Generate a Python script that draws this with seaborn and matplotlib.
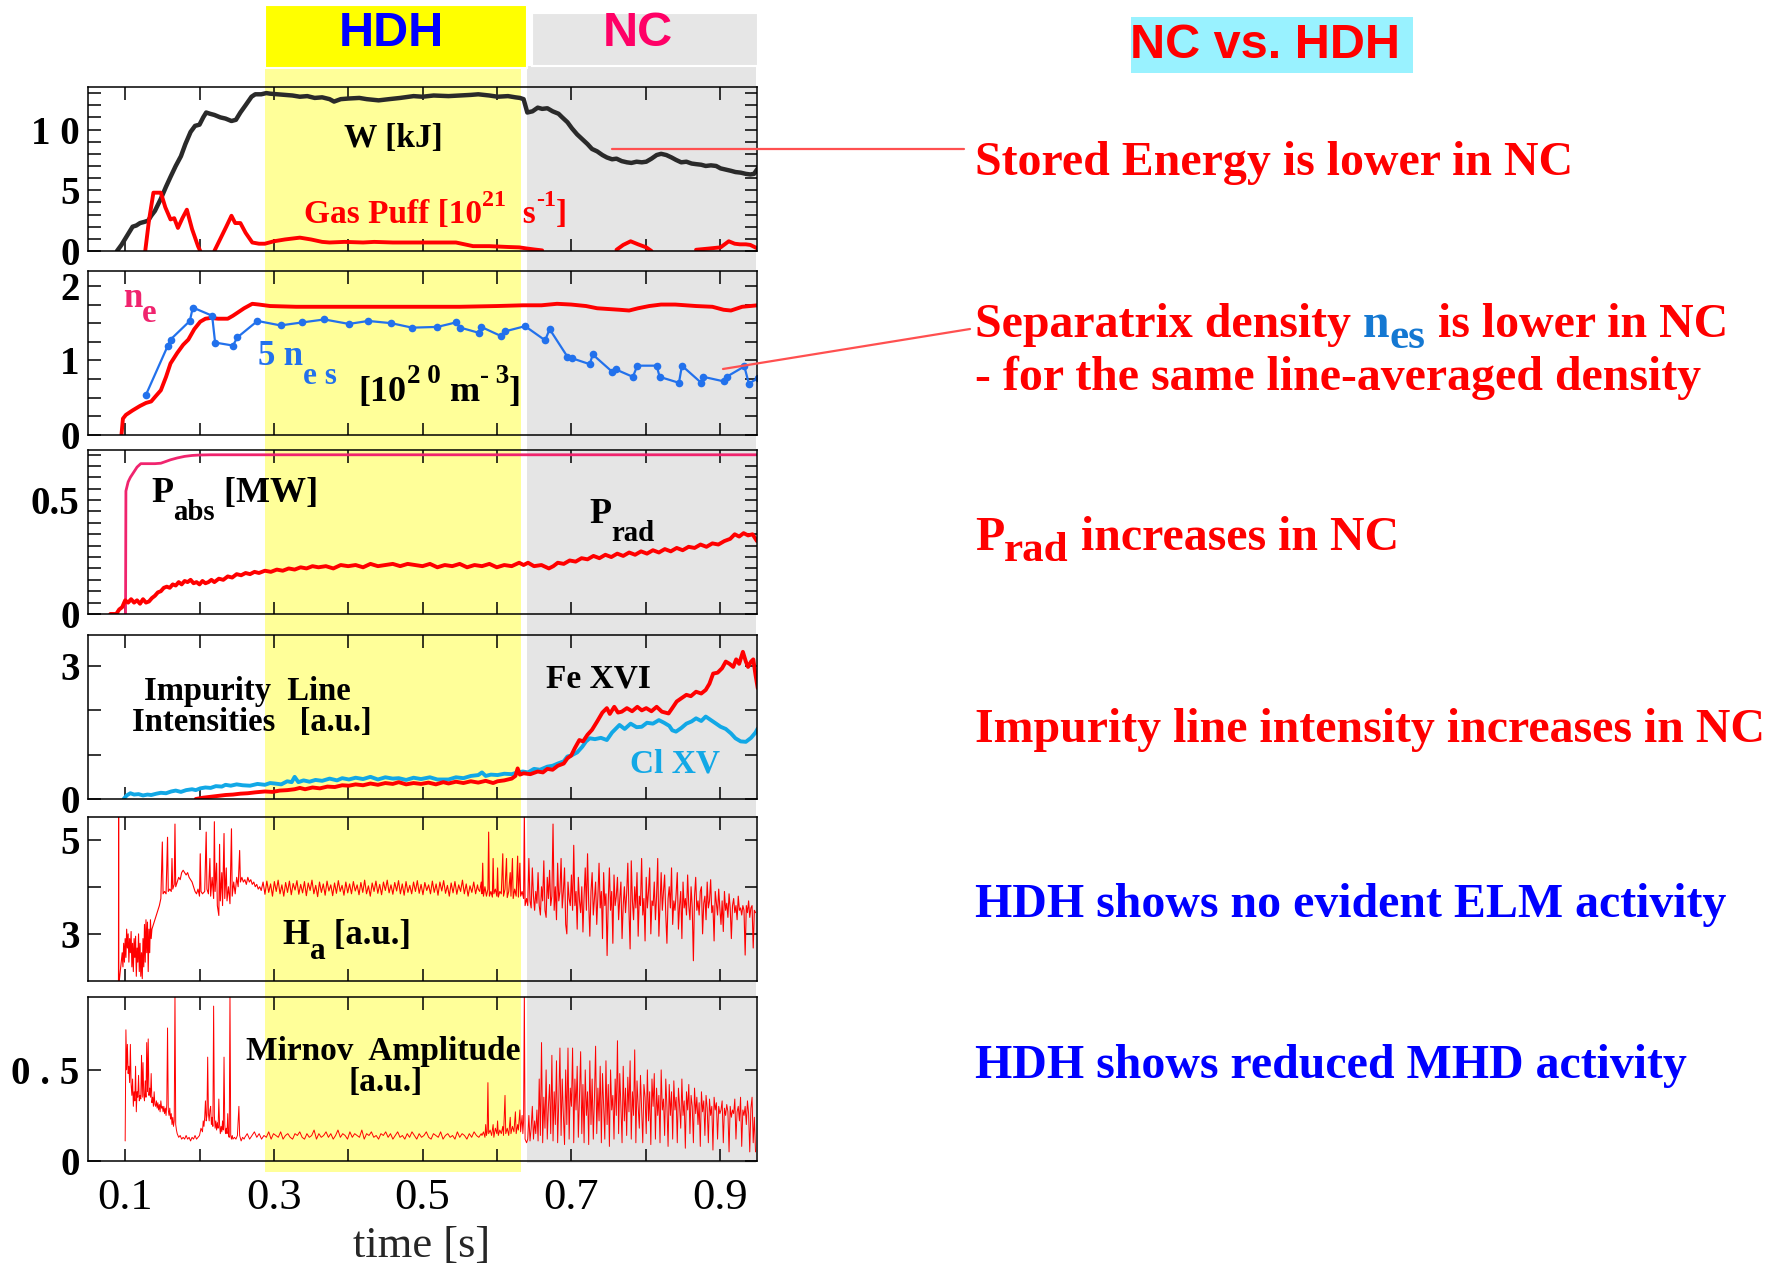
import numpy as np
import matplotlib
matplotlib.use("Agg")
import matplotlib.pyplot as plt
from matplotlib.patches import Rectangle
from matplotlib.lines import Line2D
from matplotlib.ticker import FixedLocator, FixedFormatter
from matplotlib.transforms import IdentityTransform
import seaborn as sns

# ---------------------------------------------------------------- data
# Stored energy W [kJ]
w_t = [0.089, 0.095, 0.100, 0.106, 0.110, 0.115, 0.120, 0.126, 0.131, 0.135, 0.140, 0.148, 0.155,
       0.161, 0.168, 0.175, 0.181, 0.188, 0.194, 0.200, 0.205, 0.209, 0.214, 0.220, 0.228, 0.235,
       0.243, 0.249, 0.255, 0.262, 0.270, 0.275, 0.283, 0.290, 0.295, 0.305, 0.315, 0.325, 0.335,
       0.345, 0.355, 0.365, 0.375, 0.381, 0.390, 0.400, 0.415, 0.425, 0.441, 0.455, 0.470, 0.488,
       0.500, 0.515, 0.535, 0.550, 0.565, 0.575, 0.590, 0.601, 0.615, 0.625, 0.631, 0.636, 0.641,
       0.648, 0.655, 0.661, 0.668, 0.675, 0.683, 0.688, 0.695, 0.701, 0.708, 0.715, 0.722, 0.728,
       0.735, 0.742, 0.748, 0.755, 0.761, 0.768, 0.775, 0.781, 0.788, 0.795, 0.801, 0.808, 0.815,
       0.821, 0.828, 0.835, 0.841, 0.848, 0.855, 0.862, 0.868, 0.875, 0.881, 0.888, 0.895, 0.901,
       0.908, 0.915, 0.921, 0.928, 0.935, 0.941, 0.946, 0.951]
w_v = [0.0, 0.5, 1.0, 1.6, 2.0, 2.1, 2.3, 2.4, 2.5, 2.9, 3.3, 4.3, 5.3,
       6.1, 7.0, 7.8, 8.8, 9.8, 10.3, 10.4, 11.0, 11.4, 11.3, 11.2, 11.0, 10.9,
       10.7, 10.8, 11.4, 12.0, 12.7, 12.9, 12.9, 13.0, 12.95, 12.9, 12.85, 12.8, 12.7,
       12.75, 12.6, 12.65, 12.5, 12.3, 12.5, 12.55, 12.6, 12.5, 12.4, 12.5, 12.6, 12.75,
       12.7, 12.8, 12.75, 12.8, 12.85, 12.9, 12.8, 12.7, 12.75, 12.65, 12.6, 12.5, 11.4,
       11.5, 11.8, 11.7, 11.75, 11.5, 11.3, 11.0, 10.6, 10.1, 9.6, 9.2, 8.8, 8.4,
       8.2, 7.9, 7.7, 7.55, 7.6, 7.4, 7.3, 7.25, 7.35, 7.3, 7.35, 7.6, 7.9,
       8.0, 7.9, 7.7, 7.5, 7.3, 7.35, 7.2, 7.15, 7.1, 7.0, 7.05, 7.0, 6.8,
       6.7, 6.6, 6.5, 6.45, 6.35, 6.3, 6.35, 6.8]

# Gas puff [1e21 /s]  (nan marks where the trace sits on zero)
gas_t = [0.127, 0.132, 0.138, 0.148, 0.154, 0.161, 0.166, 0.171, 0.177, 0.183, 0.190, 0.198, 0.201,
         np.nan,
         0.220, 0.228, 0.236, 0.243, 0.248, 0.255, 0.262, 0.271, 0.280, 0.288, 0.300, 0.315, 0.335,
         0.350, 0.365, 0.375, 0.395, 0.420, 0.435, 0.460, 0.490, 0.520, 0.545, 0.568, 0.590, 0.615,
         0.630, 0.641, 0.651, 0.661,
         np.nan,
         0.761, 0.770, 0.780, 0.790, 0.801, 0.808,
         np.nan,
         0.868, 0.885, 0.901, 0.912, 0.920, 0.927, 0.935, 0.941, 0.951]
gas_v = [0.0, 2.5, 4.8, 4.8, 3.6, 2.6, 2.7, 1.9, 2.7, 3.4, 1.8, 0.4, 0.0,
         np.nan,
         0.0, 1.0, 2.0, 2.9, 2.3, 2.3, 1.5, 0.7, 0.6, 0.6, 0.8, 0.95, 1.1,
         0.95, 0.75, 0.7, 0.75, 0.7, 0.75, 0.7, 0.7, 0.7, 0.7, 0.4, 0.4, 0.33,
         0.3, 0.2, 0.12, 0.05,
         np.nan,
         0.1, 0.5, 0.8, 0.55, 0.3, 0.0,
         np.nan,
         0.1, 0.2, 0.3, 0.8, 0.6, 0.55, 0.55, 0.5, 0.2]

# Line-averaged density n_e [1e20 m^-3]
ne_t = [0.095, 0.097, 0.101, 0.110, 0.120, 0.128, 0.135, 0.141, 0.148, 0.155, 0.161, 0.170, 0.178,
        0.185, 0.193, 0.201, 0.208, 0.215, 0.225, 0.238, 0.245, 0.251, 0.260, 0.271, 0.280, 0.295,
        0.330, 0.370, 0.401, 0.450, 0.500, 0.550, 0.600, 0.635, 0.660, 0.681, 0.700, 0.720, 0.735,
        0.750, 0.765, 0.778, 0.790, 0.805, 0.821, 0.840, 0.868, 0.890, 0.905, 0.915, 0.930, 0.951]
ne_v = [0.0, 0.22, 0.27, 0.33, 0.39, 0.43, 0.45, 0.52, 0.60, 0.78, 0.96, 1.10, 1.21,
        1.28, 1.42, 1.52, 1.56, 1.57, 1.56, 1.56, 1.60, 1.64, 1.70, 1.76, 1.75, 1.73,
        1.72, 1.72, 1.72, 1.72, 1.72, 1.72, 1.73, 1.74, 1.74, 1.76, 1.75, 1.73, 1.70,
        1.69, 1.68, 1.67, 1.70, 1.73, 1.75, 1.75, 1.73, 1.72, 1.68, 1.67, 1.72, 1.74]

# Separatrix density, 5 x n_es
nes_t = [0.128, 0.157, 0.161, 0.187, 0.191, 0.217, 0.221, 0.245, 0.251, 0.278, 0.309, 0.338, 0.368,
         0.401, 0.427, 0.458, 0.486, 0.520, 0.545, 0.551, 0.576, 0.579, 0.605, 0.611, 0.638, 0.665,
         0.671, 0.695, 0.701, 0.725, 0.729, 0.755, 0.760, 0.783, 0.789, 0.815, 0.819, 0.845, 0.849,
         0.875, 0.878, 0.905, 0.909, 0.933, 0.939, 0.951]
nes_v = [0.54, 1.19, 1.28, 1.53, 1.71, 1.60, 1.24, 1.20, 1.31, 1.53, 1.47, 1.51, 1.55,
         1.49, 1.53, 1.50, 1.44, 1.45, 1.51, 1.44, 1.37, 1.45, 1.33, 1.39, 1.46, 1.27,
         1.42, 1.05, 1.03, 0.95, 1.08, 0.85, 0.88, 0.78, 0.93, 0.93, 0.78, 0.70, 0.93,
         0.70, 0.78, 0.72, 0.78, 0.92, 0.69, 0.76]

# Absorbed power P_abs [MW]
pabs_t = [0.100, 0.1005, 0.101, 0.104, 0.107, 0.111, 0.116, 0.121, 0.130, 0.140, 0.148, 0.155,
          0.161, 0.170, 0.180, 0.190, 0.200, 0.215, 0.300, 0.500, 0.700, 0.951]
pabs_v = [0.0, 0.0, 0.54, 0.58, 0.60, 0.62, 0.645, 0.66, 0.66, 0.66, 0.662, 0.67,
          0.677, 0.685, 0.692, 0.696, 0.698, 0.699, 0.699, 0.699, 0.699, 0.699]

# Radiated power P_rad [MW]
prad_t = [0.080, 0.088, 0.092, 0.096, 0.100, 0.104, 0.108, 0.112, 0.116, 0.120, 0.124, 0.128,
          0.132, 0.136, 0.140, 0.144, 0.148, 0.152, 0.156, 0.160, 0.164, 0.168, 0.172, 0.176,
          0.180, 0.184, 0.188, 0.192, 0.196, 0.200, 0.204, 0.208, 0.212, 0.216, 0.220, 0.226,
          0.232, 0.238, 0.244, 0.250, 0.256, 0.262, 0.268, 0.274, 0.280, 0.288, 0.296, 0.304,
          0.312, 0.320, 0.328, 0.336, 0.344, 0.352, 0.360, 0.370, 0.380, 0.390, 0.400, 0.410,
          0.420, 0.430, 0.440, 0.450, 0.460, 0.470, 0.480, 0.490, 0.500, 0.510, 0.520, 0.530,
          0.540, 0.550, 0.560, 0.570, 0.580, 0.590, 0.600, 0.610, 0.620, 0.630, 0.636, 0.642,
          0.650, 0.660, 0.670, 0.676, 0.682, 0.690, 0.698, 0.706, 0.714, 0.722, 0.730, 0.738,
          0.746, 0.754, 0.762, 0.770, 0.778, 0.786, 0.794, 0.802, 0.810, 0.818, 0.826, 0.834,
          0.842, 0.850, 0.858, 0.866, 0.874, 0.882, 0.890, 0.898, 0.906, 0.914, 0.920, 0.926,
          0.932, 0.938, 0.944, 0.950]
prad_v = [0.0, 0.0, 0.02, 0.03, 0.06, 0.05, 0.065, 0.05, 0.06, 0.045, 0.065, 0.05,
          0.055, 0.07, 0.08, 0.095, 0.10, 0.115, 0.12, 0.115, 0.13, 0.125, 0.14, 0.13,
          0.145, 0.14, 0.15, 0.135, 0.14, 0.13, 0.145, 0.135, 0.14, 0.15, 0.14, 0.155,
          0.15, 0.165, 0.16, 0.175, 0.17, 0.18, 0.175, 0.185, 0.18, 0.19, 0.185, 0.195,
          0.19, 0.20, 0.195, 0.205, 0.20, 0.21, 0.205, 0.21, 0.20, 0.215, 0.21, 0.215,
          0.205, 0.22, 0.21, 0.215, 0.22, 0.21, 0.22, 0.215, 0.21, 0.22, 0.205, 0.215,
          0.21, 0.22, 0.205, 0.215, 0.21, 0.22, 0.205, 0.215, 0.21, 0.225, 0.215, 0.225,
          0.21, 0.215, 0.20, 0.21, 0.225, 0.22, 0.235, 0.23, 0.245, 0.24, 0.255, 0.245,
          0.26, 0.25, 0.265, 0.255, 0.27, 0.26, 0.275, 0.265, 0.28, 0.27, 0.285, 0.275,
          0.29, 0.28, 0.295, 0.29, 0.305, 0.295, 0.31, 0.305, 0.32, 0.33, 0.35, 0.34,
          0.355, 0.345, 0.35, 0.32]

# Impurity line intensities [a.u.]
fe_t = [0.195, 0.205, 0.215, 0.225, 0.235, 0.245, 0.255, 0.265, 0.275, 0.288, 0.298, 0.308,
        0.318, 0.328, 0.335, 0.342, 0.352, 0.362, 0.372, 0.382, 0.392, 0.401, 0.410, 0.420,
        0.430, 0.440, 0.450, 0.460, 0.468, 0.478, 0.488, 0.498, 0.508, 0.518, 0.528, 0.535,
        0.545, 0.555, 0.565, 0.575, 0.585, 0.595, 0.601, 0.610, 0.620, 0.625, 0.628, 0.631,
        0.636, 0.645, 0.655, 0.662, 0.668, 0.675, 0.682, 0.690, 0.695, 0.700, 0.705, 0.711,
        0.716, 0.722, 0.728, 0.735, 0.742, 0.748, 0.752, 0.758, 0.763, 0.768, 0.775, 0.782,
        0.789, 0.795, 0.801, 0.808, 0.815, 0.822, 0.831, 0.836, 0.842, 0.848, 0.855, 0.861,
        0.868, 0.875, 0.881, 0.886, 0.891, 0.897, 0.903, 0.908, 0.913, 0.918, 0.922, 0.926,
        0.931, 0.935, 0.938, 0.942, 0.945, 0.948, 0.951]
fe_v = [0.0, 0.03, 0.05, 0.07, 0.09, 0.10, 0.12, 0.13, 0.15, 0.17, 0.16, 0.19,
        0.20, 0.22, 0.25, 0.22, 0.26, 0.24, 0.28, 0.27, 0.31, 0.30, 0.33, 0.31,
        0.35, 0.32, 0.36, 0.34, 0.38, 0.33, 0.36, 0.34, 0.37, 0.33, 0.38, 0.35,
        0.39, 0.36, 0.40, 0.37, 0.41, 0.36, 0.40, 0.42, 0.46, 0.52, 0.69, 0.55,
        0.58, 0.56, 0.62, 0.60, 0.68, 0.66, 0.75, 0.80, 0.92, 0.98, 1.15, 1.33,
        1.30, 1.45, 1.56, 1.75, 1.95, 2.05, 1.92, 2.08, 1.95, 1.97, 2.05, 1.98,
        2.08, 2.00, 2.05, 1.98, 2.08, 1.97, 1.93, 2.05, 2.20, 2.27, 2.35, 2.32,
        2.42, 2.38, 2.46, 2.60, 2.83, 2.85, 2.95, 3.10, 3.05, 2.98, 3.15, 3.05,
        3.32, 3.10, 2.98, 3.10, 3.15, 2.80, 2.50]

cl_t = [0.098, 0.102, 0.107, 0.112, 0.118, 0.124, 0.130, 0.135, 0.142, 0.148, 0.155, 0.162,
        0.168, 0.175, 0.182, 0.190, 0.195, 0.201, 0.208, 0.215, 0.222, 0.230, 0.235, 0.242,
        0.250, 0.258, 0.268, 0.278, 0.288, 0.295, 0.301, 0.310, 0.318, 0.324, 0.328, 0.333,
        0.340, 0.348, 0.356, 0.365, 0.375, 0.385, 0.392, 0.401, 0.410, 0.420, 0.430, 0.440,
        0.450, 0.460, 0.468, 0.478, 0.488, 0.498, 0.510, 0.520, 0.535, 0.545, 0.555, 0.565,
        0.575, 0.580, 0.585, 0.592, 0.601, 0.610, 0.620, 0.628, 0.635, 0.642, 0.650, 0.658,
        0.668, 0.675, 0.682, 0.690, 0.695, 0.700, 0.708, 0.715, 0.720, 0.725, 0.732, 0.740,
        0.748, 0.755, 0.765, 0.772, 0.780, 0.788, 0.795, 0.802, 0.810, 0.818, 0.825, 0.832,
        0.836, 0.841, 0.848, 0.855, 0.862, 0.868, 0.875, 0.881, 0.888, 0.895, 0.901, 0.908,
        0.915, 0.921, 0.928, 0.935, 0.942, 0.948, 0.951]
cl_v = [0.0, 0.08, 0.13, 0.10, 0.11, 0.08, 0.10, 0.09, 0.12, 0.14, 0.13, 0.17,
        0.19, 0.16, 0.20, 0.22, 0.20, 0.24, 0.26, 0.25, 0.29, 0.28, 0.32, 0.30,
        0.33, 0.31, 0.30, 0.34, 0.32, 0.36, 0.35, 0.33, 0.40, 0.38, 0.50, 0.38,
        0.42, 0.39, 0.43, 0.41, 0.46, 0.42, 0.47, 0.44, 0.48, 0.45, 0.50, 0.44,
        0.49, 0.46, 0.47, 0.43, 0.48, 0.45, 0.49, 0.44, 0.44, 0.49, 0.47, 0.52,
        0.54, 0.60, 0.52, 0.55, 0.54, 0.57, 0.56, 0.60, 0.62, 0.60, 0.68, 0.66,
        0.73, 0.75, 0.80, 0.85, 0.96, 0.98, 1.05, 1.18, 1.30, 1.37, 1.35, 1.38,
        1.33, 1.50, 1.67, 1.58, 1.70, 1.62, 1.63, 1.72, 1.70, 1.78, 1.72, 1.65,
        1.55, 1.52, 1.60, 1.70, 1.75, 1.82, 1.76, 1.86, 1.78, 1.70, 1.63, 1.58,
        1.48, 1.37, 1.30, 1.29, 1.38, 1.50, 1.59]

# H-alpha [a.u.]: start-up and early H-mode phase
ha_early_t = [0.0910, 0.0912, 0.0914, 0.096, 0.097, 0.098, 0.099, 0.100, 0.101, 0.102, 0.103,
              0.104, 0.105, 0.106, 0.107, 0.108, 0.109, 0.110, 0.111, 0.112, 0.113, 0.114,
              0.115, 0.116, 0.117, 0.118, 0.119, 0.120, 0.121, 0.122, 0.123, 0.124, 0.125,
              0.126, 0.127, 0.128, 0.129, 0.130, 0.131, 0.132, 0.133, 0.134, 0.135, 0.136,
              0.138, 0.140, 0.142, 0.144, 0.146, 0.148, 0.150, 0.151, 0.153, 0.155, 0.157,
              0.158, 0.160, 0.162, 0.163, 0.164, 0.166, 0.167, 0.168, 0.170, 0.172, 0.174,
              0.176, 0.178, 0.180, 0.182, 0.184, 0.186, 0.188, 0.190, 0.192, 0.194, 0.196,
              0.198, 0.200, 0.201, 0.202, 0.204, 0.207, 0.209, 0.210, 0.212, 0.214, 0.215,
              0.217, 0.219, 0.220, 0.221, 0.223, 0.224, 0.226, 0.227, 0.228, 0.230, 0.231,
              0.233, 0.234, 0.236, 0.237, 0.239, 0.241, 0.243, 0.244, 0.246, 0.248, 0.250,
              0.252, 0.254, 0.255, 0.257, 0.259, 0.261, 0.263, 0.265, 0.267, 0.269, 0.271,
              0.273, 0.275, 0.277, 0.279, 0.281]
ha_early_v = [1.9, 5.6, 1.9, 2.6, 2.3, 2.8, 2.4, 2.9, 2.5, 3.1, 2.7,
              3.0, 2.4, 2.9, 2.6, 3.05, 2.3, 2.8, 2.2, 2.9, 2.5, 2.95,
              2.1, 2.7, 2.4, 3.0, 2.2, 2.8, 2.1, 2.6, 2.05, 2.9, 2.3,
              3.2, 2.4, 3.3, 2.6, 3.25, 2.2, 3.1, 2.6, 3.3, 2.9, 3.1,
              3.2, 3.3, 3.4, 3.5, 3.6, 3.75, 4.95, 3.85, 3.9, 3.85, 5.05,
              3.9, 3.95, 3.9, 4.6, 3.95, 4.05, 5.33, 4.0, 4.1, 4.2, 4.15,
              4.3, 4.35, 4.3, 4.25, 4.3, 4.2, 4.15, 4.1, 4.0, 3.9, 3.85,
              3.95, 3.8, 4.7, 3.9, 3.85, 3.9, 5.16, 3.95, 3.85, 4.6, 3.8,
              4.2, 3.75, 5.38, 3.9, 4.5, 3.6, 3.39, 4.9, 3.7, 4.3, 3.6,
              5.13, 3.75, 4.4, 3.7, 4.0, 3.64, 5.23, 3.8, 4.1, 3.85, 4.2,
              4.0, 4.77, 4.1, 4.2, 4.1, 4.15, 4.05, 4.2, 4.1, 4.15, 4.05,
              4.1, 4.0, 4.05, 3.95, 4.0]
# H-alpha during the quiet HDH phase (evenly sampled 0.283 .. 0.574 s)
ha_hdh_v = [3.92, 4.10, 3.84, 4.12, 3.88, 4.06, 3.80, 4.11, 3.90, 4.14, 3.85, 4.04, 3.80,
            4.09, 3.88, 4.12, 3.83, 4.07, 3.93, 4.13, 3.84, 4.05, 3.87, 4.11, 3.81, 4.08,
            3.92, 4.14, 3.85, 4.03, 3.79, 4.10, 3.88, 4.06, 3.82, 4.12, 3.91, 4.04, 3.81,
            4.08, 3.86, 4.13, 3.90, 4.03, 3.82, 4.10, 3.87, 4.06, 3.85, 4.11, 3.91, 4.04,
            3.83, 4.09, 3.88, 4.14, 3.85, 4.02, 3.80, 4.08, 3.90, 4.12, 3.86, 4.05, 3.83,
            4.10, 3.92, 4.14, 3.87, 4.04, 3.84, 4.09, 3.91, 4.13, 3.85, 4.06, 3.82, 4.11,
            3.88, 4.03, 3.85, 4.10, 3.90, 4.13, 3.86, 4.05, 3.83, 4.09, 3.92, 4.04, 3.85,
            4.12, 3.88, 4.06, 3.82, 4.10, 3.91, 4.13, 3.86, 4.03, 3.80, 4.08, 3.87, 4.11,
            3.84, 4.04, 3.90, 4.14, 3.85, 4.06, 3.80, 4.02, 3.88, 4.10, 3.85, 4.04]
# H-alpha at the end of the HDH phase
ha_pre_t = [0.575, 0.577, 0.579, 0.580, 0.581, 0.582, 0.584, 0.586, 0.588, 0.589, 0.590, 0.592,
            0.594, 0.595, 0.596, 0.598, 0.600, 0.601, 0.602, 0.604, 0.606, 0.608, 0.609, 0.611,
            0.613, 0.614, 0.616, 0.618, 0.619, 0.621, 0.622, 0.624, 0.626, 0.628, 0.629, 0.631,
            0.632, 0.634, 0.636, 0.637, 0.638]
ha_pre_v = [3.95, 3.90, 4.10, 3.85, 4.50, 3.80, 4.00, 3.80, 3.95, 5.16, 3.80, 3.90,
            3.78, 4.60, 3.85, 3.95, 3.80, 4.40, 3.78, 3.90, 3.85, 4.70, 3.80, 3.95,
            4.60, 3.77, 3.90, 4.30, 3.80, 4.60, 3.75, 3.95, 3.80, 4.65, 3.78, 4.50,
            3.80, 3.90, 3.75, 5.60, 3.60]
# H-alpha with ELMs in the NC phase (evenly sampled 0.640 .. 0.948 s)
ha_nc_v = [3.75, 3.60, 4.60, 3.70, 3.55, 4.40, 3.80, 3.50, 3.90, 3.65,
           4.30, 3.60, 3.40, 4.00, 3.70, 4.55, 3.50, 3.35, 4.20, 3.75,
           4.35, 3.60, 3.80, 5.33, 3.50, 4.00, 3.30, 4.50, 3.70, 3.90,
           4.60, 3.55, 3.90, 4.40, 3.20, 3.00, 4.10, 3.75, 3.60, 4.25,
           3.50, 4.88, 3.60, 3.90, 3.10, 4.20, 3.70, 3.45, 4.00, 3.04,
           3.80, 4.40, 3.50, 4.70, 3.65, 2.95, 3.90, 4.30, 3.40, 3.75,
           4.10, 3.20, 3.80, 4.50, 3.55, 3.90, 2.90, 4.30, 3.60, 3.85,
           2.54, 3.70, 4.40, 3.50, 3.90, 2.80, 4.25, 3.60, 3.80, 4.20,
           3.30, 3.75, 4.10, 2.90, 3.60, 4.00, 3.45, 3.85, 4.50, 3.50,
           2.68, 4.55, 3.70, 3.30, 4.00, 3.55, 4.30, 2.95, 3.80, 3.60,
           4.60, 3.40, 3.75, 2.85, 4.20, 3.55, 3.90, 4.40, 3.00, 3.70,
           3.60, 4.10, 3.30, 3.80, 4.60, 2.95, 3.65, 4.30, 3.50, 3.90,
           4.25, 3.40, 2.80, 3.75, 4.00, 3.55, 4.40, 3.20, 3.70, 3.50,
           3.85, 4.30, 3.10, 3.60, 3.90, 2.90, 4.10, 3.55, 3.75, 3.40,
           4.25, 3.60, 3.30, 4.00, 3.55, 2.43, 3.80, 4.20, 3.50, 3.70,
           3.40, 3.90, 4.00, 3.00, 3.65, 3.80, 3.30, 4.10, 3.55, 3.70,
           4.15, 3.45, 3.60, 2.85, 3.90, 3.65, 3.40, 3.95, 3.55, 3.20,
           3.70, 3.05, 3.90, 3.50, 3.65, 3.35, 3.85, 3.55, 2.90, 3.60,
           3.75, 3.45, 3.60, 3.30, 3.80, 3.50, 3.55, 3.40, 3.60, 3.50,
           2.55, 3.60, 3.45, 3.70, 3.35, 3.55, 3.60, 2.70, 3.50, 3.45]

# Mirnov amplitude [a.u.]: start-up and early H-mode phase
mir_early_t = [0.100, 0.101, 0.102, 0.103, 0.104, 0.105, 0.106, 0.107, 0.108, 0.109, 0.110,
               0.111, 0.112, 0.113, 0.114, 0.115, 0.116, 0.117, 0.118, 0.119, 0.120, 0.121,
               0.122, 0.123, 0.124, 0.125, 0.126, 0.127, 0.128, 0.129, 0.130, 0.131, 0.132,
               0.133, 0.134, 0.135, 0.136, 0.137, 0.138, 0.139, 0.140, 0.141, 0.142, 0.143,
               0.144, 0.145, 0.146, 0.147, 0.148, 0.149, 0.150, 0.151, 0.152, 0.153, 0.154,
               0.155, 0.156, 0.157, 0.158, 0.159, 0.160, 0.161, 0.162, 0.163, 0.164, 0.165,
               0.166, 0.167, 0.168, 0.169, 0.170, 0.172, 0.174, 0.176, 0.178, 0.180, 0.182,
               0.184, 0.186, 0.188, 0.190, 0.192, 0.194, 0.196, 0.198, 0.200, 0.202, 0.204,
               0.205, 0.206, 0.207, 0.208, 0.209, 0.210, 0.211, 0.212, 0.213, 0.214, 0.215,
               0.216, 0.217, 0.218, 0.219, 0.220, 0.221, 0.222, 0.223, 0.224, 0.225, 0.226,
               0.227, 0.228, 0.229, 0.230, 0.231, 0.232, 0.233, 0.234, 0.235, 0.236, 0.237,
               0.238, 0.239, 0.240, 0.241, 0.242, 0.243, 0.244, 0.245, 0.247, 0.249, 0.251,
               0.253, 0.254, 0.256, 0.258, 0.260]
mir_early_v = [0.11, 0.72, 0.50, 0.64, 0.48, 0.52, 0.43, 0.64, 0.42, 0.36, 0.45,
               0.30, 0.38, 0.33, 0.52, 0.27, 0.38, 0.35, 0.47, 0.33, 0.36, 0.34,
               0.58, 0.35, 0.54, 0.36, 0.33, 0.44, 0.35, 0.65, 0.38, 0.67, 0.36,
               0.40, 0.35, 0.48, 0.32, 0.35, 0.30, 0.38, 0.31, 0.30, 0.33, 0.29,
               0.32, 0.28, 0.31, 0.27, 0.33, 0.29, 0.30, 0.27, 0.30, 0.26, 0.29,
               0.25, 0.31, 0.73, 0.28, 0.25, 0.29, 0.23, 0.26, 0.20, 0.24, 0.19,
               0.22, 0.92, 0.20, 0.17, 0.15, 0.13, 0.14, 0.12, 0.13, 0.12, 0.14,
               0.12, 0.13, 0.11, 0.13, 0.12, 0.14, 0.12, 0.13, 0.14, 0.18, 0.16,
               0.22, 0.19, 0.24, 0.33, 0.22, 0.25, 0.57, 0.26, 0.22, 0.28, 0.30,
               0.20, 0.24, 0.19, 0.85, 0.25, 0.18, 0.22, 0.17, 0.21, 0.18, 0.34,
               0.20, 0.15, 0.19, 0.16, 0.22, 0.17, 0.57, 0.20, 0.15, 0.18, 0.15,
               0.26, 0.14, 0.13, 0.92, 0.14, 0.12, 0.14, 0.12, 0.13, 0.12, 0.14,
               0.30, 0.14, 0.11, 0.13, 0.12]
# Mirnov amplitude during the quiet HDH phase (evenly sampled 0.261 .. 0.579 s)
mir_hdh_v = [0.13, 0.15, 0.12, 0.14, 0.16, 0.13, 0.15, 0.12, 0.14, 0.13, 0.16, 0.12, 0.15,
             0.14, 0.13, 0.16, 0.12, 0.14, 0.15, 0.13, 0.12, 0.15, 0.14, 0.16, 0.13, 0.12,
             0.15, 0.13, 0.14, 0.17, 0.12, 0.15, 0.13, 0.14, 0.16, 0.13, 0.15, 0.12, 0.14,
             0.17, 0.13, 0.15, 0.14, 0.12, 0.16, 0.13, 0.15, 0.14, 0.13, 0.17, 0.12, 0.15,
             0.14, 0.16, 0.13, 0.14, 0.12, 0.15, 0.14, 0.16, 0.13, 0.15, 0.12, 0.14, 0.16,
             0.13, 0.14, 0.12, 0.15, 0.13, 0.16, 0.14, 0.12, 0.15, 0.13, 0.14, 0.16, 0.13,
             0.12, 0.15, 0.14, 0.13, 0.16, 0.12, 0.14, 0.15, 0.13, 0.14, 0.12, 0.16, 0.13,
             0.15, 0.14, 0.12, 0.15, 0.13, 0.16, 0.14, 0.13, 0.15]
# Mirnov amplitude at the end of the HDH phase
mir_pre_t = [0.580, 0.582, 0.584, 0.585, 0.586, 0.587, 0.588, 0.589, 0.591, 0.593, 0.595, 0.596,
             0.598, 0.600, 0.601, 0.602, 0.604, 0.606, 0.608, 0.609, 0.611, 0.612, 0.614, 0.616,
             0.618, 0.619, 0.621, 0.623, 0.625, 0.626, 0.628, 0.629, 0.631, 0.632, 0.634, 0.635,
             0.636, 0.637, 0.638]
mir_pre_v = [0.14, 0.16, 0.13, 0.20, 0.14, 0.16, 0.43, 0.15, 0.17, 0.14, 0.20, 0.13,
             0.18, 0.15, 0.22, 0.14, 0.17, 0.15, 0.19, 0.14, 0.36, 0.15, 0.18, 0.14,
             0.24, 0.15, 0.19, 0.16, 0.27, 0.15, 0.20, 0.17, 0.28, 0.16, 0.25, 0.15,
             0.22, 0.95, 0.12]
# Mirnov amplitude in the NC phase (evenly sampled 0.640 .. 0.948 s)
mir_nc_v = [0.10, 0.12, 0.25, 0.11, 0.18, 0.30, 0.12, 0.22, 0.15, 0.28,
            0.11, 0.45, 0.14, 0.65, 0.10, 0.35, 0.18, 0.50, 0.12, 0.30,
            0.42, 0.15, 0.58, 0.11, 0.38, 0.20, 0.55, 0.10, 0.33, 0.62,
            0.14, 0.45, 0.25, 0.09, 0.50, 0.20, 0.62, 0.12, 0.40, 0.30,
            0.62, 0.10, 0.45, 0.28, 0.52, 0.13, 0.35, 0.60, 0.15, 0.42,
            0.10, 0.50, 0.25, 0.38, 0.09, 0.55, 0.20, 0.45, 0.12, 0.35,
            0.63, 0.15, 0.40, 0.22, 0.52, 0.10, 0.48, 0.30, 0.12, 0.55,
            0.20, 0.42, 0.08, 0.50, 0.28, 0.36, 0.12, 0.45, 0.25, 0.66,
            0.15, 0.48, 0.30, 0.10, 0.52, 0.22, 0.40, 0.14, 0.46, 0.27,
            0.55, 0.12, 0.38, 0.25, 0.61, 0.10, 0.44, 0.30, 0.18, 0.47,
            0.28, 0.10, 0.42, 0.35, 0.15, 0.50, 0.22, 0.38, 0.09, 0.45,
            0.30, 0.48, 0.12, 0.40, 0.25, 0.36, 0.10, 0.50, 0.28, 0.34,
            0.14, 0.45, 0.30, 0.08, 0.42, 0.25, 0.38, 0.12, 0.44, 0.28,
            0.35, 0.10, 0.40, 0.30, 0.18, 0.45, 0.25, 0.33, 0.07, 0.38,
            0.28, 0.42, 0.15, 0.36, 0.30, 0.10, 0.40, 0.26, 0.35, 0.20,
            0.32, 0.08, 0.38, 0.27, 0.33, 0.14, 0.36, 0.29, 0.10, 0.34,
            0.25, 0.30, 0.06, 0.35, 0.28, 0.32, 0.12, 0.30, 0.26, 0.28,
            0.33, 0.10, 0.29, 0.25, 0.31, 0.27, 0.05, 0.30, 0.24, 0.28,
            0.26, 0.34, 0.12, 0.27, 0.30, 0.22, 0.35, 0.08, 0.28, 0.25,
            0.30, 0.20, 0.33, 0.26, 0.05, 0.29, 0.35, 0.10, 0.24, 0.05]

# Phase windows [s]
hdh_window = (0.288, 0.633)
nc_window = (0.641, 0.949)

x_ticks = [0.1, 0.2, 0.3, 0.4, 0.5, 0.6, 0.7, 0.8, 0.9]
x_tick_labels = ["0.1", "", "0.3", "", "0.5", "", "0.7", "", "0.9"]

# ---------------------------------------------------------------- style
sns.set_theme(style="ticks")
plt.rcParams["font.family"] = ["Liberation Serif", "DejaVu Serif"]
plt.rcParams.update({
    "axes.edgecolor": "black",
    "axes.linewidth": 1.1,
    "xtick.color": "black",
    "ytick.color": "black",
})

FW, FH = 1778, 1265
fig = plt.figure(figsize=(FW / 100, FH / 100), dpi=100)
fig.patch.set_facecolor("white")
renderer = fig.canvas.get_renderer()

AX_L, AX_R = 88, 757
XLIM = (0.05, 0.95)


def fx(px):
    return px / FW


def fy(py):
    return 1 - py / FH


RED = "#FF0000"
PINK = "#F0246E"
BLUE = "#2271EC"
CYAN = "#12A8E6"
DARK = "#2A2A2A"
K = "black"


def rich(x, y, runs, size, transform, ha="left", weight="bold", family=None):
    """Draw a baseline-aligned row of text pieces.

    runs: (text, colour, relative size, baseline shift in em of the base size)
    """
    X, Y = transform.transform((x, y))
    pieces = []
    for s, col, sc, rise in runs:
        kw = dict(color=col, fontsize=size * sc, fontweight=weight, ha="left", va="baseline",
                  transform=IdentityTransform())
        if family:
            kw["family"] = family
        t = fig.text(0, 0, s, **kw)
        w = t.get_window_extent(renderer).width
        pieces.append((t, w, rise))
    total = sum(p[1] for p in pieces)
    cx = X - (total / 2 if ha == "center" else 0)
    for t, w, rise in pieces:
        t.set_position((cx, Y + rise * size * 100 / 72))
        cx += w


# background layer carrying the phase shading across all panels
bg = fig.add_axes([fx(AX_L), 0, fx(AX_R - AX_L), 1], zorder=-10)
bg.set_xlim(*XLIM)
bg.set_ylim(0, 1)
bg.axis("off")
bg.add_patch(Rectangle((hdh_window[0], fy(1172)), hdh_window[1] - hdh_window[0], fy(68) - fy(1172),
                       facecolor="#FFFF99", edgecolor="none"))
bg.add_patch(Rectangle((nc_window[0], fy(1163)), nc_window[1] - nc_window[0], fy(66) - fy(1163),
                       facecolor="#E5E5E5", edgecolor="none"))
bg.add_patch(Rectangle((0.288, fy(68)), 0.352, fy(5) - fy(68),
                       facecolor="#FFFF00", edgecolor="white", linewidth=1.5))
bg.add_patch(Rectangle((0.647, fy(66)), 0.304, fy(13) - fy(66),
                       facecolor="#E6E6E6", edgecolor="white", linewidth=1.5))
bg.text(0.458, fy(34), "HDH", color="#0000FF", fontsize=35, fontweight="bold",
        family="Liberation Sans", ha="center", va="center")
bg.text(0.789, fy(34), "NC", color="#FF0066", fontsize=35, fontweight="bold",
        family="Liberation Sans", ha="center", va="center")

tops = [87, 271, 450, 635, 817, 997]
PH = 164
axes = []
for top in tops:
    ax = fig.add_axes([fx(AX_L), fy(top + PH), fx(AX_R - AX_L), PH / FH])
    ax.set_facecolor("none")
    ax.set_xlim(*XLIM)
    ax.xaxis.set_major_locator(FixedLocator(x_ticks))
    ax.tick_params(which="both", direction="in", top=True, right=True, length=9, width=1.1,
                   labelbottom=False, pad=6)
    for s in ax.spines.values():
        s.set_color("black")
        s.set_linewidth(1.1)
    axes.append(ax)


def set_y(ax, lo, hi, ticks, labels):
    ax.set_ylim(lo, hi)
    ax.yaxis.set_major_locator(FixedLocator(ticks))
    ax.yaxis.set_major_formatter(FixedFormatter(labels))
    for lab in ax.get_yticklabels():
        lab.set_fontsize(28)
        lab.set_fontweight("bold")


def line(ax, t, v, color, lw, **kw):
    sns.lineplot(x=list(t), y=list(v), ax=ax, color=color, linewidth=lw,
                 estimator=None, sort=False, **kw)


def split_nan(t, v):
    segs, cur_t, cur_v = [], [], []
    for a, b in zip(t, v):
        if np.isnan(a):
            segs.append((cur_t, cur_v))
            cur_t, cur_v = [], []
        else:
            cur_t.append(a)
            cur_v.append(b)
    segs.append((cur_t, cur_v))
    return segs


SUB = (0.8, -0.5)   # panel subscripts: size, shift
SUP = (0.72, 0.5)   # panel superscripts

# panel 1: stored energy and gas puff
ax = axes[0]
set_y(ax, 0, 13.5, list(range(14)), ["0", "", "", "", "", "5", "", "", "", "", "1 0", "", "", ""])
line(ax, w_t, w_v, DARK, 3.2)
for st, sv in split_nan(gas_t, gas_v):
    line(ax, st, sv, RED, 2.8)
rich(0.456, 0.636, [("W [kJ]", K, 1, 0)], 24, ax.transAxes, ha="center")
rich(0.52, 0.173, [("Gas Puff [10", RED, 1, 0), ("21", RED, *SUP), ("  s", RED, 1, 0),
                   ("-1", RED, *SUP), ("]", RED, 1, 0)], 24, ax.transAxes, ha="center")

# panel 2: densities
ax = axes[1]
set_y(ax, 0, 2.2, [0, 0.25, 0.5, 0.75, 1, 1.25, 1.5, 1.75, 2],
      ["0", "", "", "", "1", "", "", "", "2"])
line(ax, ne_t, ne_v, RED, 2.8)
line(ax, nes_t, nes_v, BLUE, 1.6, marker="o", markersize=5.5, markeredgewidth=0)
rich(0.052, 0.782, [("n", PINK, 1, 0), ("e", PINK, 0.95, -0.45)], 25, ax.transAxes)
rich(0.253, 0.427, [("5", BLUE, 1, 0), (" n", BLUE, 1, 0), ("e s", BLUE, 0.9, -0.55)], 25, ax.transAxes)
rich(0.526, 0.21, [("[10", K, 1, 0), ("2 0", K, 0.75, 0.5), (" m", K, 1, 0), ("- 3", K, 0.75, 0.5),
                   ("]", K, 1, 0)], 26, ax.transAxes, ha="center")

# panel 3: absorbed and radiated power
ax = axes[2]
set_y(ax, 0, 0.72, [round(0.05 * i, 2) for i in range(15)],
      ["0"] + [""] * 9 + ["0.5"] + [""] * 4)
line(ax, pabs_t, pabs_v, PINK, 2.0)
line(ax, prad_t, prad_v, RED, 2.8)
rich(0.095, 0.685, [("P", K, 1, 0), ("abs", K, *SUB), (" [MW]", K, 1, 0)], 26, ax.transAxes)
rich(0.749, 0.557, [("P", K, 1, 0), ("rad", K, *SUB)], 26, ax.transAxes)

# panel 4: impurity lines
ax = axes[3]
set_y(ax, 0, 3.7, [0, 1, 2, 3], ["0", "", "", "3"])
line(ax, cl_t, cl_v, CYAN, 2.8)
line(ax, fe_t, fe_v, RED, 2.8)
rich(0.238, 0.604, [("Impurity  Line", K, 1, 0)], 23.5, ax.transAxes, ha="center")
rich(0.245, 0.415, [("Intensities   [a.u.]", K, 1, 0)], 23.5, ax.transAxes, ha="center")
rich(0.763, 0.677, [("Fe XVI", K, 1, 0)], 24, ax.transAxes, ha="center")
rich(0.877, 0.159, [("Cl XV", CYAN, 1, 0)], 24, ax.transAxes, ha="center")

# panel 5: H-alpha
ax = axes[4]
set_y(ax, 2.0, 5.48, [3, 4, 5], ["3", "", "5"])
ha_t = (ha_early_t + list(np.linspace(0.283, 0.574, len(ha_hdh_v))) + ha_pre_t
        + list(np.linspace(0.640, 0.948, len(ha_nc_v))))
ha_v = ha_early_v + ha_hdh_v + ha_pre_v + ha_nc_v
line(ax, ha_t, ha_v, RED, 0.8)
rich(0.291, 0.226, [("H", K, 1, 0), ("a", K, 0.9, -0.42), (" [a.u.]", K, 1, 0)], 25, ax.transAxes)

# panel 6: Mirnov amplitude
ax = axes[5]
set_y(ax, 0, 0.9, [0, 0.5], ["0", "0 . 5"])
mir_t = (mir_early_t + list(np.linspace(0.261, 0.579, len(mir_hdh_v))) + mir_pre_t
         + list(np.linspace(0.640, 0.948, len(mir_nc_v))))
mir_v = mir_early_v + mir_hdh_v + mir_pre_v + mir_nc_v
line(ax, mir_t, mir_v, RED, 0.7)
rich(0.441, 0.616, [("Mirnov  Amplitude", K, 1, 0)], 24, ax.transAxes, ha="center")
rich(0.445, 0.427, [("[a.u.]", K, 1, 0)], 24, ax.transAxes, ha="center")
ax.xaxis.set_major_formatter(FixedFormatter(x_tick_labels))
ax.tick_params(axis="x", labelbottom=True, labelsize=32, pad=12)
fig.text(fx(422), fy(1246), "time [s]", fontsize=32, ha="center", va="center")

for ax in axes:
    ax.set_xlabel("")
    ax.set_ylabel("")

# ---------------------------------------------------------------- right-hand notes
fig.add_artist(Rectangle((fx(1131), fy(73)), fx(1413 - 1131), fy(17) - fy(73),
                         transform=fig.transFigure, facecolor="#99F2FF", edgecolor="none"))
fig.text(fx(1265), fy(46), "NC vs. HDH", color=RED, fontsize=35, fontweight="bold",
         family="Liberation Sans", ha="center", va="center")

fig.add_artist(Line2D([fx(612), fx(964)], [fy(149), fy(149)], transform=fig.transFigure,
                      color="#FF5050", linewidth=1.6))
fig.add_artist(Line2D([fx(723), fx(970)], [fy(369), fy(329)], transform=fig.transFigure,
                      color="#FF5050", linewidth=1.6))

NOTE = 34.5
NSUB = (0.9, -0.22)
FT = fig.transFigure
rich(fx(975), fy(175), [("Stored Energy is lower in NC", RED, 1, 0)], NOTE, FT)
rich(fx(975), fy(337), [("Separatrix density ", RED, 1, 0), ("n", "#1478D2", 1, 0),
                        ("es", "#1478D2", *NSUB), (" is lower in NC", RED, 1, 0)], NOTE, FT)
rich(fx(975), fy(390), [("- for the same line-averaged density", RED, 1, 0)], NOTE, FT)
rich(fx(975), fy(550), [("P", RED, 1, 0), ("rad", RED, *NSUB), (" increases in NC", RED, 1, 0)], NOTE, FT)
rich(fx(975), fy(742), [("Impurity line intensity increases in NC", RED, 1, 0)], NOTE, FT)
rich(fx(975), fy(917), [("HDH shows no evident ELM activity", "#0000FF", 1, 0)], NOTE, FT)
rich(fx(975), fy(1078), [("HDH shows reduced MHD activity", "#0000FF", 1, 0)], NOTE, FT)

fig.savefig("out.png", dpi=100)
